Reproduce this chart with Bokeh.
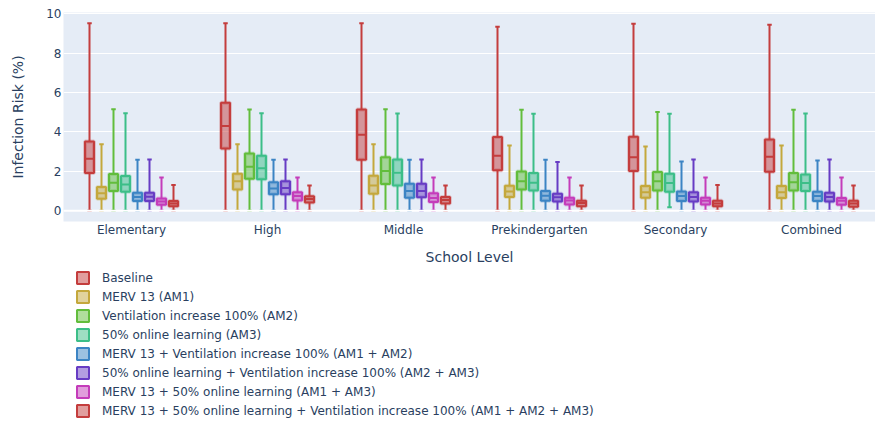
from bokeh.plotting import figure
from bokeh.layouts import column
from bokeh.models import ColumnDataSource, Range1d, FixedTicker, Legend, LegendItem, Span
from bokeh.embed import file_html
from bokeh.resources import INLINE

schools = ["Elementary", "High", "Middle", "Prekindergarten", "Secondary", "Combined"]
scenarios = [
    "Baseline",
    "MERV 13 (AM1)",
    "Ventilation increase 100% (AM2)",
    "50% online learning (AM3)",
    "MERV 13 + Ventilation increase 100% (AM1 + AM2)",
    "50% online learning + Ventilation increase 100% (AM2 + AM3)",
    "MERV 13 + 50% online learning (AM1 + AM3)",
    "MERV 13 + 50% online learning + Ventilation increase 100% (AM1 + AM2 + AM3)",
]
colors = ["#C43D3D", "#C4A83C", "#62BD3C", "#3CBE88", "#3C84C4", "#673CC4", "#C43CBA", "#C43D3D"]

# rows: scenarios, columns: schools
upper = [
    [9.52, 9.52, 9.52, 9.35, 9.50, 9.45],
    [3.37, 3.38, 3.38, 3.31, 3.26, 3.31],
    [5.16, 5.14, 5.16, 5.13, 5.01, 5.13],
    [4.95, 4.95, 4.94, 4.92, 4.92, 4.94],
    [2.59, 2.59, 2.59, 2.59, 2.50, 2.55],
    [2.60, 2.60, 2.60, 2.47, 2.60, 2.60],
    [1.69, 1.69, 1.69, 1.69, 1.69, 1.69],
    [1.30, 1.28, 1.28, 1.28, 1.30, 1.28],
]
q3 = [
    [3.52, 5.48, 5.14, 3.74, 3.76, 3.62],
    [1.20, 1.88, 1.78, 1.27, 1.25, 1.25],
    [1.86, 2.91, 2.72, 1.99, 1.96, 1.91],
    [1.76, 2.79, 2.60, 1.91, 1.88, 1.84],
    [0.91, 1.44, 1.37, 1.00, 0.98, 0.96],
    [0.91, 1.49, 1.37, 0.86, 0.93, 0.91],
    [0.62, 0.94, 0.88, 0.66, 0.66, 0.64],
    [0.49, 0.73, 0.69, 0.51, 0.51, 0.51],
]
median = [
    [2.64, 4.30, 3.86, 2.79, 2.71, 2.74],
    [0.89, 1.49, 1.28, 0.98, 0.93, 0.93],
    [1.42, 2.23, 2.01, 1.50, 1.49, 1.45],
    [1.33, 2.16, 1.93, 1.42, 1.40, 1.40],
    [0.69, 1.13, 1.00, 0.76, 0.74, 0.74],
    [0.71, 1.15, 1.00, 0.68, 0.69, 0.69],
    [0.47, 0.74, 0.64, 0.52, 0.51, 0.51],
    [0.36, 0.59, 0.54, 0.39, 0.37, 0.37],
]
q1 = [
    [1.91, 3.16, 2.59, 2.05, 2.01, 1.98],
    [0.61, 1.07, 0.86, 0.69, 0.66, 0.64],
    [1.00, 1.62, 1.35, 1.07, 1.03, 1.03],
    [0.96, 1.60, 1.28, 1.02, 0.96, 1.00],
    [0.49, 0.83, 0.66, 0.51, 0.49, 0.49],
    [0.49, 0.83, 0.68, 0.47, 0.46, 0.47],
    [0.30, 0.52, 0.44, 0.32, 0.32, 0.30],
    [0.22, 0.42, 0.36, 0.22, 0.22, 0.20],
]
lower = [
    [0, 0, 0, 0, 0, 0],
    [0, 0, 0, 0, 0, 0],
    [0, 0, 0, 0, 0, 0],
    [0, 0, 0, 0, 0.17, 0],
    [0, 0, 0, 0, 0, 0],
    [0, 0, 0, 0, 0, 0],
    [0, 0, 0, 0, 0, 0],
    [0, 0, 0, 0, 0, 0],
]
y_ticks = [0, 2, 4, 6, 8, 10]

FONT = "DejaVu Sans"
TXT = "#2a3f5f"
CAT_PX = 136.0
step = 12.0 / CAT_PX
bw = 9.0 / CAT_PX
cw = bw * 0.5

p = figure(width=875, height=268, output_backend="svg", toolbar_location=None,
           x_range=Range1d(0, 812.0 / CAT_PX), y_range=Range1d(-0.55, 10.07),
           min_border_left=63, min_border_right=0, min_border_top=12, min_border_bottom=47)
p.background_fill_color = "#E5ECF6"
p.border_fill_color = "white"
p.outline_line_color = None

p.xgrid.grid_line_color = None
p.ygrid.grid_line_color = "white"
p.ygrid.grid_line_width = 1
p.yaxis.ticker = FixedTicker(ticks=y_ticks)
p.xaxis.ticker = FixedTicker(ticks=[j + 0.5 for j in range(len(schools))])
p.xaxis.major_label_overrides = {j + 0.5: s for j, s in enumerate(schools)}
p.add_layout(Span(location=0, dimension="width", line_color="white", line_width=2))

for ax in (p.xaxis[0], p.yaxis[0]):
    ax.axis_line_color = None
    ax.major_tick_line_color = None
    ax.minor_tick_line_color = None
    ax.major_tick_out = 0
    ax.major_tick_in = 0
    ax.minor_tick_out = 0
    ax.minor_tick_in = 0
    ax.major_label_text_font = FONT
    ax.major_label_text_font_size = "12px"
    ax.major_label_text_color = TXT
    ax.axis_label_text_font = FONT
    ax.axis_label_text_font_size = "14px"
    ax.axis_label_text_font_style = "normal"
    ax.axis_label_text_color = TXT

p.xaxis.axis_label = "School Level"
p.yaxis.axis_label = "Infection Risk (%)"
p.xaxis.major_label_standoff = 1
p.xaxis.axis_label_standoff = 9
p.yaxis.major_label_standoff = 2
p.yaxis.axis_label_standoff = 17

# legend figure: its ranges exclude the data, so only the legend itself is visible
pl = figure(width=875, height=154, output_backend="svg", toolbar_location=None,
            x_range=Range1d(-3, -2), y_range=Range1d(-3, -2),
            x_axis_location=None, y_axis_location=None,
            min_border_left=0, min_border_right=0, min_border_top=0, min_border_bottom=0)
pl.grid.visible = False
pl.outline_line_color = None
pl.background_fill_color = "white"
pl.border_fill_color = "white"

items = []
for i, name in enumerate(scenarios):
    xs = [j + 0.5 + (i - 3.5) * step for j in range(len(schools))]
    src = ColumnDataSource(dict(
        x=xs,
        left=[x - bw / 2 for x in xs], right=[x + bw / 2 for x in xs],
        cl=[x - cw / 2 for x in xs], cr=[x + cw / 2 for x in xs],
        lo=lower[i], q1=q1[i], med=median[i], q3=q3[i], hi=upper[i],
    ))
    c = colors[i]
    p.segment(x0="x", y0="lo", x1="x", y1="q1", source=src, line_color=c, line_width=2)
    p.segment(x0="x", y0="q3", x1="x", y1="hi", source=src, line_color=c, line_width=2)
    p.segment(x0="cl", y0="hi", x1="cr", y1="hi", source=src, line_color=c, line_width=2)
    p.segment(x0="cl", y0="lo", x1="cr", y1="lo", source=src, line_color=c, line_width=2)
    p.quad(left="left", right="right", bottom="q1", top="q3", source=src,
           fill_color=None, line_color=c, line_width=4, line_alpha=0.25)
    p.quad(left="left", right="right", bottom="q1", top="q3", source=src,
           fill_color=c, fill_alpha=0.5, line_color=c, line_width=2)
    p.segment(x0="left", y0="med", x1="right", y1="med", source=src, line_color=c, line_width=2)
    r = pl.quad(left="left", right="right", bottom="q1", top="q3", source=src,
                fill_color=c, fill_alpha=0.5, line_color=c, line_width=2)
    items.append(LegendItem(label=name, renderers=[r]))

legend = Legend(items=items, location=(12, 4), orientation="vertical",
                label_text_font=FONT, label_text_font_size="12px", label_text_color=TXT,
                glyph_width=15, glyph_height=15, label_height=15, spacing=4,
                label_standoff=12, padding=1, margin=0,
                border_line_color=None, background_fill_alpha=0)
pl.add_layout(legend, "center")

layout = column(p, pl, spacing=0)
open("out.html", "w").write(file_html(layout, INLINE))
